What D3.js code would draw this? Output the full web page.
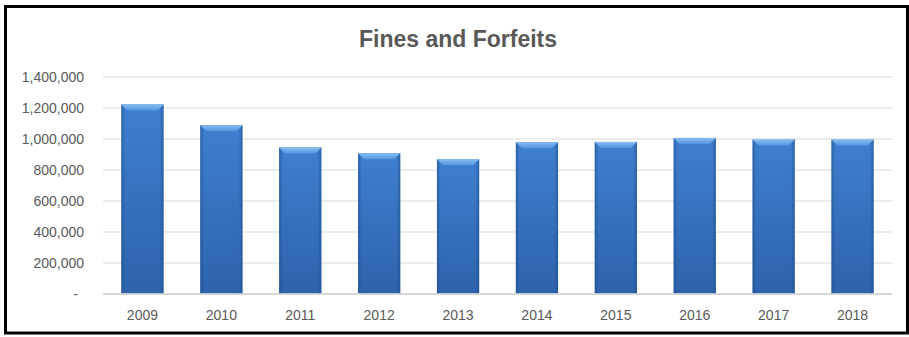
<!DOCTYPE html>
<html>
<head>
<meta charset="utf-8">
<script src="https://cdn.jsdelivr.net/npm/d3@7"></script>
<style>
  html, body { margin: 0; padding: 0; background: #fff; }
  svg { display: block; }
</style>
</head>
<body>
<svg id="chart" width="909" height="337"></svg>
<script>
// Fines and Forfeits, annual totals
const years = ["2009", "2010", "2011", "2012", "2013", "2014", "2015", "2016", "2017", "2018"];
const amounts = [1220000, 1086000, 942000, 905000, 866000, 976000, 978000, 1004000, 993000, 993000];
const yTicks = [0, 200000, 400000, 600000, 800000, 1000000, 1200000, 1400000];
const chartTitle = "Fines and Forfeits";

const W = 909, H = 337;
const plot = { left: 103, right: 892, top: 76.5, bottom: 293.5 };
const font = "'Liberation Sans', Arial, sans-serif";
const textGray = "#595959";

const svg = d3.select("#chart");

// Gradients for the bevelled bars
const defs = svg.append("defs");
const body = defs.append("linearGradient").attr("id", "barBody")
  .attr("x1", 0).attr("y1", 0).attr("x2", 0).attr("y2", 1);
body.append("stop").attr("offset", "0%").attr("stop-color", "#3f7fcf");
body.append("stop").attr("offset", "100%").attr("stop-color", "#2d63ac");

const sides = defs.append("linearGradient").attr("id", "barSides")
  .attr("x1", 0).attr("y1", 0).attr("x2", 1).attr("y2", 0);
sides.append("stop").attr("offset", "0%").attr("stop-color", "#1d4a87").attr("stop-opacity", 0.55);
sides.append("stop").attr("offset", "9%").attr("stop-color", "#1d4a87").attr("stop-opacity", 0);
sides.append("stop").attr("offset", "91%").attr("stop-color", "#1d4a87").attr("stop-opacity", 0);
sides.append("stop").attr("offset", "100%").attr("stop-color", "#1d4a87").attr("stop-opacity", 0.55);

const bevel = defs.append("linearGradient").attr("id", "barBevel")
  .attr("x1", 0).attr("y1", 0).attr("x2", 0).attr("y2", 1);
bevel.append("stop").attr("offset", "0%").attr("stop-color", "#86bdf3");
bevel.append("stop").attr("offset", "100%").attr("stop-color", "#5494df");

// Outer frame
svg.append("rect")
  .attr("x", 5.5).attr("y", 6.5)
  .attr("width", 902).attr("height", 326.5)
  .attr("fill", "#fff").attr("stroke", "#000").attr("stroke-width", 3);

// Scales
const x = d3.scaleBand().domain(years)
  .range([plot.left, plot.right])
  .paddingInner(0.465).paddingOuter(0.2325);
const y = d3.scaleLinear().domain([0, 1400000]).range([plot.bottom, plot.top]);

// Title
svg.append("text")
  .attr("x", 458).attr("y", 47)
  .attr("text-anchor", "middle")
  .attr("font-family", font).attr("font-weight", "bold")
  .attr("font-size", 23).attr("fill", textGray)
  .text(chartTitle);

// Gridlines and value axis
const fmt = d3.format(",");
const yAxis = d3.axisLeft(y).tickValues(yTicks)
  .tickSize(-(plot.right - plot.left))
  .tickPadding(19)
  .tickFormat(d => d === 0 ? "-" : fmt(d));
const gy = svg.append("g").attr("transform", `translate(${plot.left},0)`).call(yAxis);
gy.select(".domain").remove();
gy.selectAll(".tick line").attr("stroke", "#d9d9d9").attr("stroke-width", 1);
gy.selectAll(".tick text")
  .attr("font-family", font).attr("font-size", 14).attr("fill", textGray)
  .attr("dy", "0.36em");
gy.selectAll(".tick").filter(d => d === 0).select("text").attr("x", -25);

// Bars
const bars = svg.append("g").selectAll("g.bar")
  .data(years.map((yr, i) => ({ yr, v: amounts[i] })))
  .join("g").attr("class", "bar");

bars.append("rect")
  .attr("x", d => x(d.yr)).attr("y", d => y(d.v))
  .attr("width", x.bandwidth()).attr("height", d => y(0) - y(d.v))
  .attr("fill", "url(#barBody)");
bars.append("rect")
  .attr("x", d => x(d.yr)).attr("y", d => y(d.v))
  .attr("width", x.bandwidth()).attr("height", d => y(0) - y(d.v))
  .attr("fill", "url(#barSides)");
bars.append("path")
  .attr("d", d => {
    const x0 = x(d.yr), x1 = x0 + x.bandwidth(), t = y(d.v), b = 6;
    return `M${x0},${t}L${x1},${t}L${x1 - b},${t + b}L${x0 + b},${t + b}Z`;
  })
  .attr("fill", "url(#barBevel)");

// Category axis line
svg.append("line")
  .attr("x1", plot.left).attr("x2", plot.right)
  .attr("y1", y(0) + 0.5).attr("y2", y(0) + 0.5)
  .attr("stroke", "#d0d0d0").attr("stroke-width", 1.5);

// Category labels
const xAxis = d3.axisBottom(x).tickSize(0).tickPadding(0);
const gx = svg.append("g").attr("transform", `translate(0,${plot.bottom})`).call(xAxis);
gx.select(".domain").remove();
gx.selectAll(".tick text")
  .attr("font-family", font).attr("font-size", 14).attr("fill", textGray)
  .attr("y", 26.5).attr("dy", 0);
</script>
</body>
</html>
